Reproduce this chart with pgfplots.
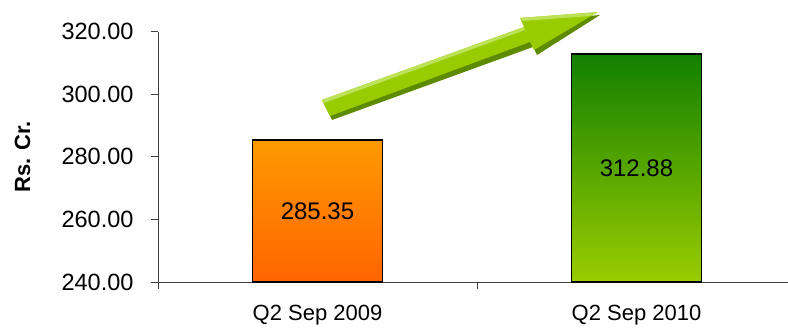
\documentclass[border=0pt]{standalone}
\usepackage{pgfplots}
\pgfplotsset{compat=1.18}
\usepackage{fontspec}
\setmainfont{Liberation Sans}
\definecolor{orTop}{HTML}{FF9A00}
\definecolor{orBot}{HTML}{FF6400}
\definecolor{grTop}{HTML}{128000}
\definecolor{grBot}{HTML}{9ACC00}
\definecolor{arMain}{HTML}{99CC00}
\definecolor{arDark}{HTML}{5E8A00}
\definecolor{arLight}{HTML}{BDE25A}
\begin{document}
\begin{tikzpicture}
\useasboundingbox (0,0) rectangle (788pt,-328pt);
\begin{axis}[
  at={(158pt,-282pt)}, anchor=south west,
  scale only axis, width=630pt, height=250.3pt,
  xmin=-0.5, xmax=1.475, ymin=240, ymax=320,
  axis x line*=bottom, axis y line*=left,
  axis line style={line width=0.9pt, color=black!75},
  tick align=outside, major tick length=7pt,
  tick style={line width=0.9pt, color=black!75},
  /pgf/number format/assume math mode=true,
  ytick={240,260,280,300,320},
  yticklabel style={/pgf/number format/fixed, /pgf/number format/fixed zerofill, /pgf/number format/precision=2,
    font=\fontsize{23.5}{28}\selectfont, xshift=-14pt},
  xtick={-0.5,0.5}, xticklabels={,},
  extra x ticks={0,1}, extra x tick labels={Q2 Sep 2009, Q2 Sep 2010},
  extra x tick style={major tick length=0pt, tick label style={font=\fontsize{22}{26}\selectfont, yshift=-20pt}},
  ylabel={Rs. Cr.},
  every axis y label/.style={at={(axis description cs:-0.2151,0.5)}, rotate=90, anchor=center, font=\fontsize{22}{26}\selectfont\bfseries},
  clip=false,
  bar width=0.408,
]
\addplot[ybar, bar shift=0pt, draw=black, line width=1.3pt, top color=orTop, bottom color=orBot] coordinates {(0,285.35)};
\addplot[ybar, bar shift=0pt, draw=black, line width=1.3pt, top color=grTop, bottom color=grBot] coordinates {(1,312.88)};
\node[font=\fontsize{24}{28}\selectfont] at (axis cs:0,262.675) {285.35};
\node[font=\fontsize{24}{28}\selectfont] at (axis cs:1,276.44) {312.88};
\end{axis}
% decorative arrow (pixel coordinates)
\fill[arDark] (324pt,-104pt) -- (527pt,-31pt) -- (523pt,-22pt) -- (600pt,-15pt) -- (537pt,-55pt) -- (533pt,-47pt) -- (332pt,-120pt) -- cycle;
\fill[arMain] (321.7pt,-100pt) -- (524pt,-27pt) -- (520pt,-18pt) -- (598pt,-12pt) -- (534pt,-50pt) -- (530pt,-42pt) -- (330pt,-116pt) -- cycle;
\fill[arLight] (321.7pt,-100pt) -- (524pt,-27pt) -- (522pt,-23pt) -- (525pt,-30pt) -- (324pt,-103pt) -- cycle;
\fill[arLight] (520pt,-18pt) -- (598pt,-12pt) -- (590pt,-16pt) -- (523pt,-21pt) -- cycle;
\end{tikzpicture}
\end{document}
